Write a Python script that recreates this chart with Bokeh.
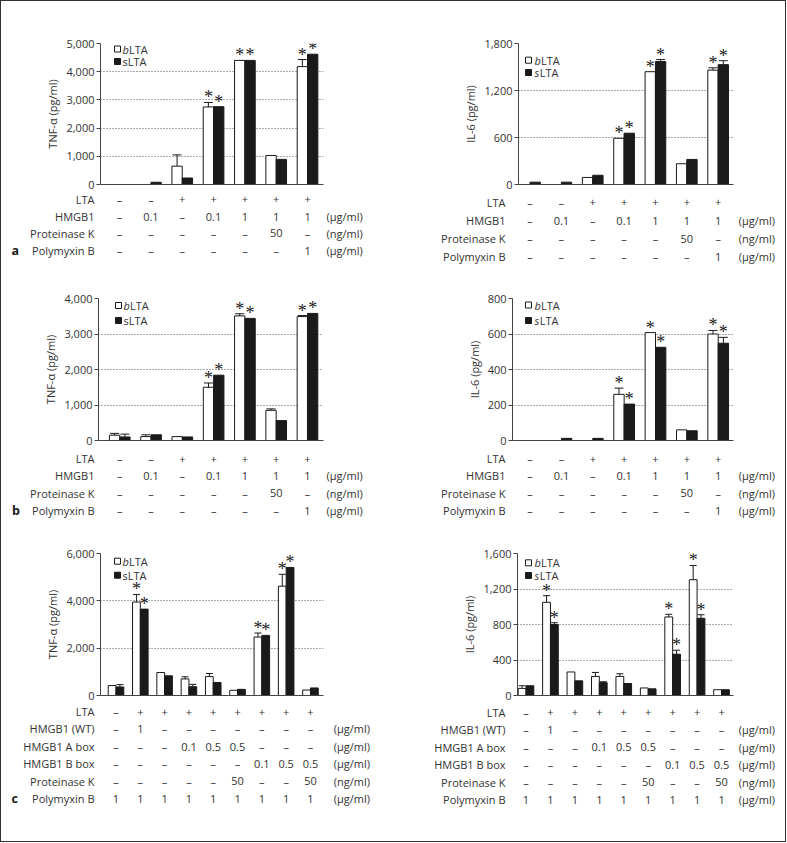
from bokeh.plotting import figure
from bokeh.models import (Range1d, ColumnDataSource, LabelSet, Label, Whisker, TeeHead,
                          BoxAnnotation, FixedTicker, NumeralTickFormatter)
from bokeh.layouts import column, row
from bokeh.core.properties import value
from bokeh.embed import file_html
from bokeh.resources import INLINE

FONT = "Open Sans"
TXT = "#333333"
INK = "#1a1a1a"
AX = "#444444"
FS = "11px"

# ---------------- data ----------------
# conditions, panels a and b
ab_rows = ["LTA", "HMGB1", "Proteinase K", "Polymyxin B"]
ab_units = ["", "(µg/ml)", "(ng/ml)", "(µg/ml)"]
ab_lta = ["–", "–", "+", "+", "+", "+", "+"]
ab_hmgb1 = ["–", "0.1", "–", "0.1", "1", "1", "1"]
ab_protk = ["–", "–", "–", "–", "–", "50", "–"]
ab_poly = ["–", "–", "–", "–", "–", "–", "1"]

# conditions, panel c
c_rows = ["LTA", "HMGB1 (WT)", "HMGB1 A box", "HMGB1 B box", "Proteinase K", "Polymyxin B"]
c_units = ["", "(µg/ml)", "(µg/ml)", "(µg/ml)", "(ng/ml)", "(µg/ml)"]
c_lta = ["–", "+", "+", "+", "+", "+", "+", "+", "+"]
c_wt = ["–", "1", "–", "–", "–", "–", "–", "–", "–"]
c_abox = ["–", "–", "–", "0.1", "0.5", "0.5", "–", "–", "–"]
c_bbox = ["–", "–", "–", "–", "–", "–", "0.1", "0.5", "0.5"]
c_protk = ["–", "–", "–", "–", "–", "50", "–", "–", "50"]
c_poly = ["1", "1", "1", "1", "1", "1", "1", "1", "1"]

# a: TNF-alpha
a_tnf_b = [0, 0, 650, 2750, 4400, 1030, 4180]
a_tnf_b_err = [0, 0, 400, 160, 0, 0, 250]
a_tnf_s = [0, 80, 230, 2760, 4400, 890, 4620]
a_tnf_s_err = [0, 0, 0, 0, 0, 0, 0]
a_sig = [0, 0, 0, 1, 1, 0, 1]
# a: IL-6
a_il6_b = [0, 0, 90, 590, 1440, 265, 1460]
a_il6_b_err = [0, 0, 0, 0, 0, 0, 30]
a_il6_s = [30, 30, 118, 655, 1570, 320, 1530]
a_il6_s_err = [0, 0, 0, 0, 25, 0, 50]
# b: TNF-alpha
b_tnf_b = [150, 110, 110, 1500, 3510, 850, 3490]
b_tnf_b_err = [50, 50, 0, 120, 60, 40, 30]
b_tnf_s = [100, 160, 100, 1840, 3440, 560, 3580]
b_tnf_s_err = [80, 0, 0, 0, 0, 0, 0]
b_sig = [0, 0, 0, 1, 1, 0, 1]
# b: IL-6
b_il6_b = [0, 0, 0, 260, 608, 60, 600]
b_il6_b_err = [0, 0, 0, 35, 0, 0, 20]
b_il6_s = [0, 12, 12, 205, 525, 55, 548]
b_il6_s_err = [0, 0, 0, 0, 0, 0, 33]
# c: TNF-alpha
c_tnf_b = [420, 3950, 970, 700, 800, 220, 2470, 4620, 230]
c_tnf_b_err = [0, 320, 0, 90, 130, 0, 170, 500, 0]
c_tnf_s = [360, 3650, 830, 370, 550, 260, 2540, 5410, 320]
c_tnf_s_err = [100, 0, 0, 100, 0, 0, 0, 0, 0]
c_sig = [0, 1, 0, 0, 0, 0, 1, 1, 0]
# c: IL-6
c_il6_b = [80, 1050, 265, 215, 215, 85, 885, 1305, 65]
c_il6_b_err = [30, 75, 0, 45, 30, 0, 30, 160, 0]
c_il6_s = [110, 800, 165, 145, 135, 75, 465, 870, 65]
c_il6_s_err = [0, 20, 0, 10, 0, 0, 45, 40, 0]


def chart(width, height, mb, xr, ymax, ticks, ylabel, bv, be, sv, se, sigb, sigs,
          leg, barw, head, s_italic=False):
    p = figure(width=width, height=height, title=None,
               x_range=Range1d(*xr), y_range=Range1d(0, ymax),
               min_border_left=mb[0], min_border_right=mb[1],
               min_border_top=mb[2], min_border_bottom=mb[3],
               frame_align=False,
               output_backend="svg", toolbar_location=None)
    p.outline_line_color = None
    p.background_fill_color = "white"
    p.border_fill_color = "white"

    xa = p.xaxis[0]
    xa.ticker = FixedTicker(ticks=[])
    xa.axis_line_color = AX
    xa.major_tick_line_color = None
    xa.minor_tick_line_color = None
    xa.major_tick_out = 0
    xa.major_tick_in = 0
    xa.major_label_standoff = 0
    p.xgrid.visible = False
    ya = p.yaxis[0]
    ya.ticker = FixedTicker(ticks=ticks)
    ya.formatter = NumeralTickFormatter(format="0,0")
    ya.axis_line_color = AX
    ya.major_tick_line_color = AX
    ya.major_tick_out = 4
    ya.major_tick_in = 0
    ya.minor_tick_line_color = None
    ya.major_label_standoff = 2
    ya.major_label_text_font = FONT
    ya.major_label_text_font_size = FS
    ya.major_label_text_color = TXT
    ya.axis_label = ylabel
    ya.axis_label_text_font = FONT
    ya.axis_label_text_font_size = FS
    ya.axis_label_text_font_style = "normal"
    ya.axis_label_text_color = TXT
    ya.axis_label_standoff = 3
    p.ygrid.grid_line_color = "#555555"
    p.ygrid.grid_line_dash = "1 2"

    n = len(bv)
    idx = list(range(n))
    xb = [i - barw / 2 for i in idx]
    xs = [i + barw / 2 for i in idx]
    src = ColumnDataSource(dict(xb=xb, xs=xs, bv=bv, sv=sv))
    p.vbar(x="xb", top="bv", width=barw, source=src, fill_color="white",
           line_color=INK, line_width=1)
    p.vbar(x="xs", top="sv", width=barw, source=src, fill_color=INK,
           line_color=INK, line_width=1)

    wx, wlo, whi = [], [], []
    for xx, v, e in list(zip(xb, bv, be)) + list(zip(xs, sv, se)):
        if e > 0:
            wx.append(xx)
            wlo.append(v - e)
            whi.append(v + e)
    wsrc = ColumnDataSource(dict(x=wx, lo=wlo, hi=whi))
    p.add_layout(Whisker(source=wsrc, base="x", lower="lo", upper="hi",
                         dimension="height", line_color=INK, line_width=1,
                         upper_head=TeeHead(size=head, line_color=INK, line_width=1),
                         lower_head=TeeHead(size=head, line_color=INK, line_width=1)))

    ax, ay = [], []
    for xx, v, e, s in list(zip(xb, bv, be, sigb)) + list(zip(xs, sv, se, sigs)):
        if s:
            ax.append(xx)
            ay.append(v + e)
    asrc = ColumnDataSource(dict(x=ax, y=ay, t=["*"] * len(ax)))
    p.add_layout(LabelSet(source=asrc, x="x", y="y", text="t", y_offset=5,
                          text_align="center", text_baseline="middle",
                          text_font=FONT, text_font_size="18px", text_color=INK))

    # legend
    sx0, sx1, y1, y2, tx0 = leg
    for yc, fill in ((y1, "white"), (y2, INK)):
        p.add_layout(BoxAnnotation(left=sx0, right=sx1, top=yc + 3, bottom=yc - 3,
                                   left_units="screen", right_units="screen",
                                   top_units="screen", bottom_units="screen",
                                   fill_color=fill, fill_alpha=1.0,
                                   line_color=INK, line_alpha=1.0, line_width=1))
    common = dict(x_units="screen", y_units="screen", text_font=FONT,
                  text_font_size=FS, text_color=TXT, text_baseline="middle")
    p.add_layout(Label(x=tx0, y=y1, text="b", text_font_style="italic", **common))
    p.add_layout(Label(x=tx0 + 6.5, y=y1, text="LTA", **common))
    if s_italic:
        p.add_layout(Label(x=tx0, y=y2, text="s", text_font_style="italic", **common))
        p.add_layout(Label(x=tx0 + 5.2, y=y2, text="LTA", **common))
    else:
        p.add_layout(Label(x=tx0, y=y2, text="sLTA", **common))
    return p


def table(width, height, ml, mr, xr, cells, rows, units, row_y, lab_px, unit_px,
          letter=None):
    ppu = (width - ml - mr) / (xr[1] - xr[0])
    x0 = xr[0] - ml / ppu
    t = figure(width=width, height=height, title=None,
               x_range=Range1d(x0, xr[1] + mr / ppu), y_range=Range1d(height, 0),
               min_border=0, x_axis_location=None, y_axis_location=None,
               frame_align=False,
               output_backend="svg", toolbar_location=None)
    t.grid.visible = False
    t.outline_line_color = None
    t.background_fill_color = "white"
    t.border_fill_color = "white"

    tx, ty, tt = [], [], []
    for r, vals in enumerate(cells):
        for i, s in enumerate(vals):
            tx.append(i)
            ty.append(row_y[r])
            tt.append(s)
    style = dict(text_font=value(FONT), text_font_size=FS, text_color=TXT,
                 text_baseline="middle")
    t.text(x="x", y="y", text="t", source=ColumnDataSource(dict(x=tx, y=ty, t=tt)),
           text_align="center", **style)
    lx = x0 + lab_px / ppu
    t.text(x="x", y="y", text="t",
           source=ColumnDataSource(dict(x=[lx] * len(rows), y=row_y, t=rows)),
           text_align="right", **style)
    ux = x0 + unit_px / ppu
    t.text(x="x", y="y", text="t",
           source=ColumnDataSource(dict(x=[ux] * len(units), y=row_y, t=units)),
           text_align="left", **style)
    if letter:
        t.text(x=[x0 + letter[1] / ppu], y=[row_y[-1]], text=[letter[0]],
               text_align="left", text_font=value(FONT), text_font_size="12.5px",
               text_font_style="bold", text_color=INK, text_baseline="middle")
    return t


ab_cells = [ab_lta, ab_hmgb1, ab_protk, ab_poly]
c_cells = [c_lta, c_wt, c_abox, c_bbox, c_protk, c_poly]

# ---- row a ----
xr = (-0.61, 6.51)
ca1 = chart(389, 189, (99, 67, 42, 6), xr, 5000, [0, 1000, 2000, 3000, 4000, 5000],
            "TNF-α (pg/ml)", a_tnf_b, a_tnf_b_err, a_tnf_s, a_tnf_s_err, a_sig, a_sig,
            (14, 20, 135.5, 123, 22), 0.33, 9)
ta1 = table(389, 80, 99, 67, xr, ab_cells, ab_rows, ab_units, [8.7, 26, 42.7, 60], 93, 325,
            letter=("a", 10))
xr = (-0.367, 6.49)
ca2 = chart(395, 189, (128, 52, 42, 6), xr, 1800, [0, 600, 1200, 1800],
            "IL-6 (pg/ml)", a_il6_b, a_il6_b_err, a_il6_s, a_il6_s_err, a_sig, a_sig,
            (7, 13, 124.3, 112, 16), 0.33, 9, s_italic=True)
ta2 = table(395, 80, 128, 52, xr, ab_cells, ab_rows, ab_units, [11.7, 30, 48, 66], 115, 348.3)

# ---- row b ----
xr = (-0.68, 6.512)
cb1 = chart(389, 176, (97, 67, 28, 6), xr, 4000, [0, 1000, 2000, 3000, 4000],
            "TNF-α (pg/ml)", b_tnf_b, b_tnf_b_err, b_tnf_s, b_tnf_s_err, b_sig, b_sig,
            (17, 23, 135, 120, 25), 0.33, 9)
tb1 = table(389, 94, 97, 67, xr, ab_cells, ab_rows, ab_units, [12.3, 29, 46.7, 64], 93, 325,
            letter=("b", 10.5))
xr = (-0.561, 6.488)
cb2 = chart(395, 176, (122, 52, 28, 6), xr, 800, [0, 200, 400, 600, 800],
            "IL-6 (pg/ml)", b_il6_b, b_il6_b_err, b_il6_s, b_il6_s_err, b_sig, b_sig,
            (13, 19, 135.5, 120, 22), 0.33, 9, s_italic=True)
tb2 = table(395, 94, 122, 52, xr, ab_cells, ab_rows, ab_units, [12.3, 29, 46.7, 64], 115, 348.3)

# ---- row c ----
xr = (-0.638, 8.536)
cc1 = chart(389, 161, (99, 67, 13, 6), xr, 6000, [0, 2000, 4000, 6000],
            "TNF-α (pg/ml)", c_tnf_b, c_tnf_b_err, c_tnf_s, c_tnf_s_err, c_sig, c_sig,
            (14, 20, 134.3, 120.3, 22), 0.32, 7)
tc1 = table(389, 140, 99, 67, xr, c_cells, c_rows, c_units,
            [10, 27.3, 45, 62.3, 79.7, 97.3], 93, 332.3, letter=("c", 10))
xr = (-0.348, 8.49)
cc2 = chart(395, 161, (127, 52, 13, 6), xr, 1600, [0, 400, 800, 1200, 1600],
            "IL-6 (pg/ml)", c_il6_b, c_il6_b_err, c_il6_s, c_il6_s_err, c_sig, c_sig,
            (8, 14, 132.7, 120, 17), 0.32, 7, s_italic=True)
tc2 = table(395, 140, 127, 52, xr, c_cells, c_rows, c_units,
            [10.7, 28.3, 45.7, 63, 80.7, 98], 115, 348.3)

layout = column(
    row(column(ca1, ta1), column(ca2, ta2)),
    row(column(cb1, tb1), column(cb2, tb2)),
    row(column(cc1, tc1), column(cc2, tc2)),
    styles={"border": "1px solid #333333"})

open("out.html", "w").write(file_html(layout, INLINE))
